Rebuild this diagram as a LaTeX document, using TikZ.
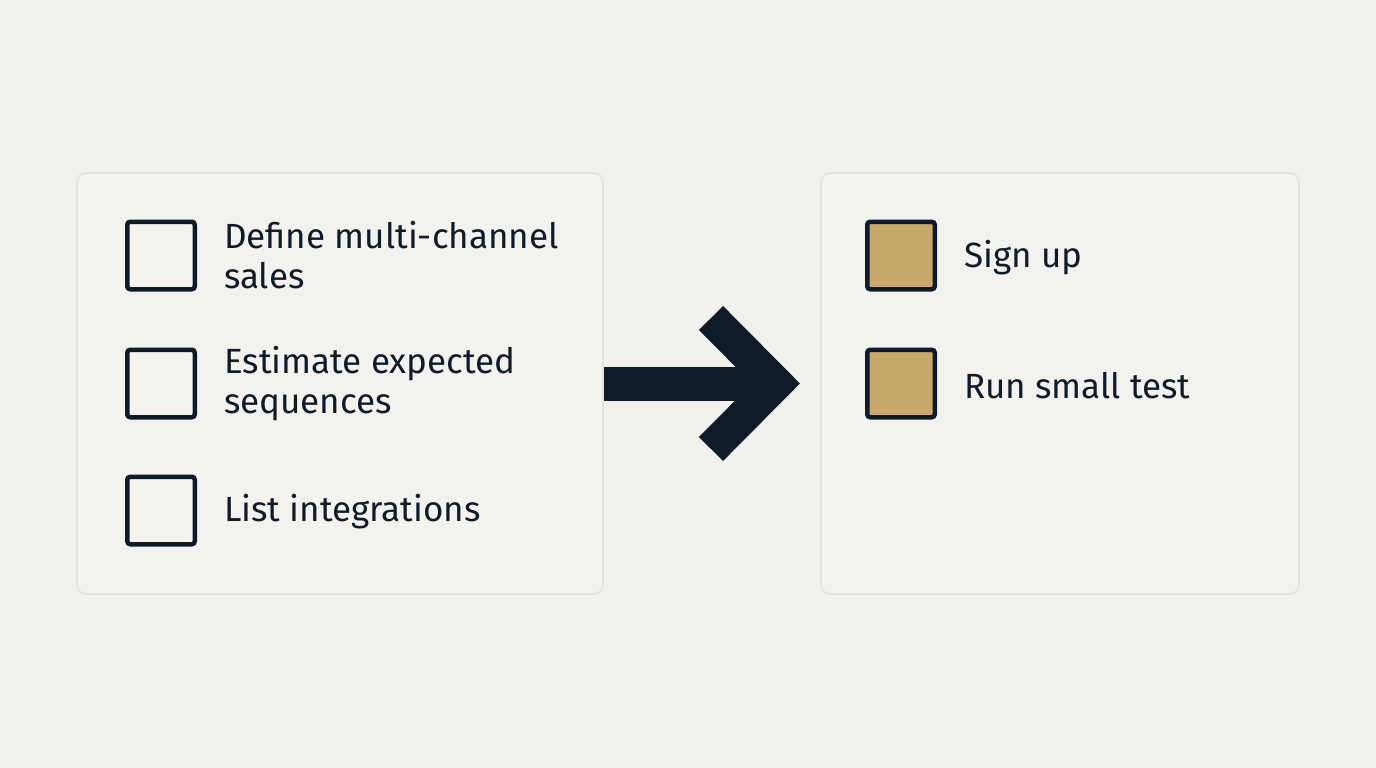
\documentclass[tikz,border=0pt]{standalone}
\usepackage{fontspec}
\setmainfont{Fira Sans}
\usetikzlibrary{positioning,calc}
\definecolor{bgGray}{HTML}{F2F1ED}
\definecolor{panelFill}{HTML}{F3F2EE}
\definecolor{panelLine}{HTML}{E2E0DB}
\definecolor{inkNavy}{HTML}{0F1B29}
\definecolor{goldFill}{HTML}{C8A96A}
\begin{document}
\begin{tikzpicture}[
    x=1pt, y=-1pt, every node/.style={font=\fontsize{35}{40}\selectfont, text=inkNavy},
    panel/.style={draw=panelLine, line width=1.5pt, fill=panelFill, rounded corners=9pt, inner sep=0pt, minimum height=421pt},
    cBox/.style={draw=inkNavy, line width=4.5pt, rounded corners=3pt, minimum size=67.5pt, inner sep=0pt},
    dBox/.style={cBox, fill=goldFill},
    tNode/.style={anchor=west, align=left, inner sep=0pt},
    flow/.style={draw=inkNavy, line width=34pt}
]
    \fill[bgGray] (0,0) rectangle (1376,768);

    % panels
    \node[panel, minimum width=526pt] (todo) at (340,383.5) {};
    \node[panel, minimum width=478pt] (done) at (1060,383.5) {};

    % left list
    \node[cBox] (b1) at (161,255.5) {};
    \node[cBox] (b2) at (161,383.5) {};
    \node[cBox] (b3) at (161,510.5) {};
    \node[tNode, right=27pt of b1] (t1) {Define multi-channel\\sales};
    \node[tNode, right=27pt of b2] (t2) {Estimate expected\\sequences};
    \node[tNode, right=27pt of b3, yshift=-1pt] (t3) {List integrations};

    % right list
    \node[dBox] (d1) at (901,255.5) {};
    \node[dBox] (d2) at (901,383.5) {};
    \node[tNode, right=27pt of d1, yshift=-2pt] (s1) {Sign up};
    \node[tNode, right=27pt of d2, yshift=-2pt] (s2) {Run small test};

    % big arrow
    \coordinate (tip) at (776,383.5);
    \draw[flow] (todo.east) -- (tip);
    \draw[flow, line join=miter] ($(tip)+(-65,-65.5)$) -- (tip) -- ($(tip)+(-65,65.5)$);
\end{tikzpicture}
\end{document}
